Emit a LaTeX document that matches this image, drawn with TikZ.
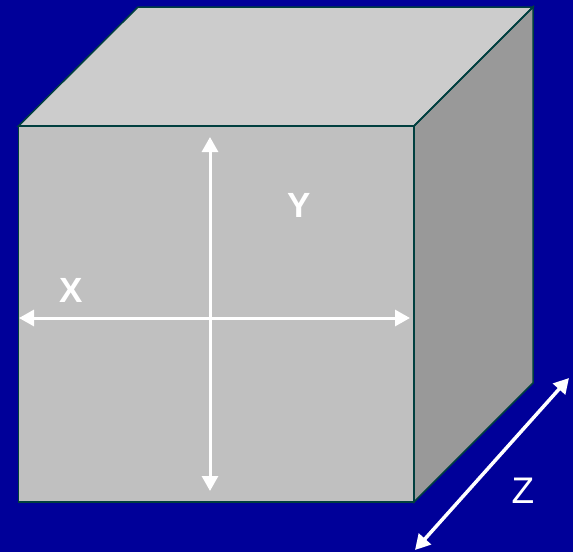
\documentclass[tikz,border=0pt]{standalone}
\usepackage{fontspec}
\setmainfont{Liberation Sans}
\usetikzlibrary{arrows.meta}
\definecolor{bgblue}{HTML}{000099}
\definecolor{topgray}{HTML}{CCCCCC}
\definecolor{frontgray}{HTML}{C0C0C0}
\definecolor{sidegray}{HTML}{999999}
\definecolor{edgecol}{HTML}{003F3F}
\tikzset{
  face/.style={draw=edgecol, line width=1.5pt, line join=miter},
  dimarrow/.style={white, line width=3pt, {Triangle[length=15pt,width=16pt]}-{Triangle[length=15pt,width=16pt]}},
  lbl/.style={white, font=\fontsize{35}{35}\selectfont, inner sep=0pt}
}
\begin{document}
\begin{tikzpicture}[x=1pt,y=-1pt]
\fill[bgblue] (0,0) rectangle (573,552);
\useasboundingbox (0,0) rectangle (573,552);
% corners
\coordinate (A) at (18.5,126);
\coordinate (B) at (414,126);
\coordinate (C) at (414,502);
\coordinate (D) at (18.5,502);
\coordinate (E) at (138,7);
\coordinate (F) at (533,7);
\coordinate (G) at (533,383);
\fill[topgray] (A) -- (E) -- (F) -- (B) -- cycle;
\fill[sidegray] (B) -- (F) -- (G) -- (C) -- cycle;
\fill[frontgray] (A) -- (B) -- (C) -- (D) -- cycle;
\draw[face] (A) -- (E) -- (F) -- (B) -- cycle;
\draw[face] (B) -- (F) -- (G) -- (C) -- cycle;
\draw[face] (A) -- (B) -- (C) -- (D) -- cycle;
% arrows
\coordinate (vt) at (210,137);
\coordinate (vb) at (210,491);
\coordinate (hl) at (19,318);
\coordinate (hr) at (410,318);
\coordinate (zt) at (569,378);
\coordinate (zb) at (415,550);
\draw[dimarrow] (vt) -- (vb);
\draw[dimarrow] (hl) -- (hr);
\draw[dimarrow, line width=3.5pt] (zt) -- (zb);
\node[lbl, font=\fontsize{35}{35}\selectfont\bfseries] (X) at (71,290.5) {X};
\node[lbl, font=\fontsize{35}{35}\selectfont\bfseries] (Y) at (299,205) {Y};
\node[lbl, font=\fontsize{37}{37}\selectfont] (Z) at (523,490.5) {Z};
\end{tikzpicture}
\end{document}
